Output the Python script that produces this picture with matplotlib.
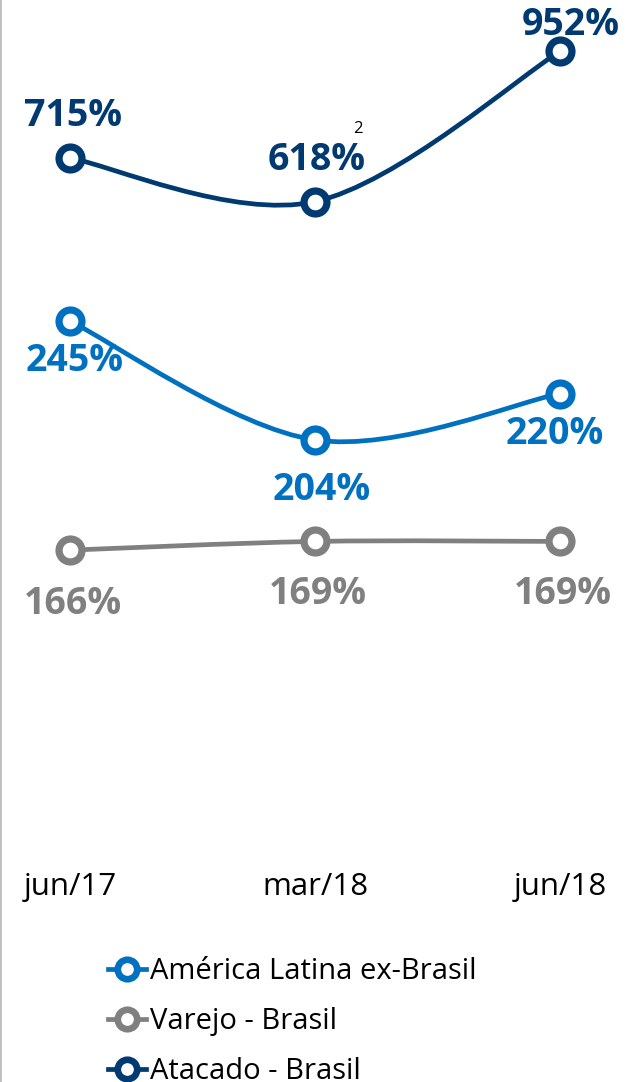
import numpy as np
import matplotlib
matplotlib.use('Agg')
import matplotlib.pyplot as plt
from matplotlib.path import Path
from matplotlib.patches import PathPatch
from matplotlib.lines import Line2D

# data
periods = ['jun/17', 'mar/18', 'jun/18']
america = [245, 204, 220]
varejo = [166, 169, 169]
atacado = [715, 618, 952]
series_names = ['América Latina ex-Brasil', 'Varejo - Brasil', 'Atacado - Brasil']
footnote = '2'

c_america = '#0070C0'
c_varejo = '#808080'
c_atacado = '#003A70'

plt.rcParams['font.family'] = ['Open Sans', 'DejaVu Sans']

fig = plt.figure(figsize=(6.29, 10.82), dpi=100)
ax = fig.add_axes([0, 0, 1, 1])
ax2 = ax.twinx()

x = np.arange(len(periods))
ax.set_xlim(-0.2857, 2.2816)
ax.set_ylim(-17.4, 355.7)      # america + varejo scale
ax2.set_ylim(-1338.3, 1066.1)  # atacado scale

for a in (ax, ax2):
    a.set_yticks([])
    a.set_xticks([])
    for s in a.spines.values():
        s.set_visible(False)
ax.spines['left'].set_visible(True)
ax.spines['left'].set_color('#BFBFBF')
ax.spines['left'].set_linewidth(2)


def smooth_line(a, xs, ys, color):
    # excel-like smoothed line: catmull-rom converted to cubic bezier
    pts = np.column_stack([xs, ys]).astype(float)
    n = len(pts)
    verts = [pts[0]]
    codes = [Path.MOVETO]
    for i in range(n - 1):
        p0 = pts[max(i - 1, 0)]
        p1 = pts[i]
        p2 = pts[i + 1]
        p3 = pts[min(i + 2, n - 1)]
        verts += [p1 + (p2 - p0) / 6, p2 - (p3 - p1) / 6, p2]
        codes += [Path.CURVE4] * 3
    a.add_patch(PathPatch(Path(verts, codes), fill=False, edgecolor=color,
                          lw=3.4, capstyle='round', zorder=2))
    a.plot(xs, ys, ls='none', marker='o', ms=16.5, mew=5.2,
           mfc='white', mec=color, zorder=3)


smooth_line(ax, x, varejo, c_varejo)
smooth_line(ax, x, america, c_america)
smooth_line(ax2, x, atacado, c_atacado)

lbl = dict(fontsize=27, fontweight='bold', ha='center', va='center',
           textcoords='offset points')

# label offsets in points
off_atacado = [(2, 30), (1, 30), (8, 19)]
off_america = [(3, -29), (5, -36), (-4, -29)]
off_varejo = [(2, -39), (2, -38), (2, -38)]

for xi, v, o in zip(x, atacado, off_atacado):
    ax2.annotate(f'{v}%', (xi, v), xytext=o, color=c_atacado, **lbl)
for xi, v, o in zip(x, america, off_america):
    ax.annotate(f'{v}%', (xi, v), xytext=o, color=c_america, **lbl)
for xi, v, o in zip(x, varejo, off_varejo):
    ax.annotate(f'{v}%', (xi, v), xytext=o, color=c_varejo, **lbl)

ax2.annotate(footnote, (x[1], atacado[1]), xytext=(31, 52),
             textcoords='offset points', fontsize=12, color='black',
             ha='center', va='center')

# category labels
sec = ax.secondary_xaxis(1 - 872 / 1082)
sec.set_xticks(x, periods)
sec.tick_params(length=0, pad=0, labelsize=22.5, labelcolor='black')
sec.spines['bottom'].set_visible(False)

handles = [
    Line2D([0], [0], color=c, lw=3.4, marker='o', ms=14, mew=4.8, mfc='white', mec=c)
    for c in (c_america, c_varejo, c_atacado)
]
fig.legend(handles, series_names, loc='upper left', bbox_to_anchor=(0.172, 1 - 957 / 1082),
           frameon=False, fontsize=21, handlelength=1.3, handletextpad=0.12,
           labelspacing=0.72, borderaxespad=0, borderpad=0)

fig.savefig('out.png', dpi=100)
